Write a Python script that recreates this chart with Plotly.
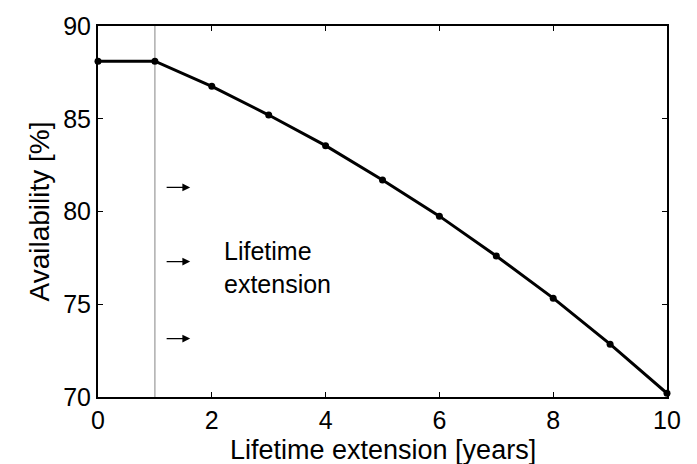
import plotly.graph_objects as go

years = [0, 1, 2, 3, 4, 5, 6, 7, 8, 9, 10]
availability = [88.1, 88.1, 86.75, 85.2, 83.55, 81.7, 79.75, 77.6, 75.33, 72.85, 70.2]
arrow_y = [81.3, 77.3, 73.15]
arrow_x0 = 1.18
arrow_x1 = 1.62

FONT = "Liberation Sans, Arial"

fig = go.Figure()
fig.add_trace(go.Scatter(
    x=years, y=availability, mode="lines+markers",
    line=dict(color="black", width=3),
    marker=dict(color="black", size=7, symbol="circle"),
    showlegend=False, cliponaxis=False,
))
fig.add_shape(type="line", x0=1, x1=1, y0=70, y1=90, xref="x", yref="y",
              line=dict(color="#999999", width=1.2), layer="below")
for yv in arrow_y:
    fig.add_annotation(x=arrow_x1, y=yv, ax=arrow_x0, ay=yv, xref="x", yref="y",
                       axref="x", ayref="y", showarrow=True, arrowhead=2,
                       arrowsize=1.3, arrowwidth=1.2, arrowcolor="black", text="")
fig.add_annotation(x=2.18, y=77.0, xref="x", yref="y", text="Lifetime<br>extension",
                   showarrow=False, xanchor="left", yanchor="middle", align="left",
                   font=dict(family=FONT, size=25, color="black"))
# axis titles
fig.add_annotation(x=0.5, y=-0.142, xref="paper", yref="paper",
                   text="Lifetime extension [years]", showarrow=False,
                   xanchor="center", yanchor="middle",
                   font=dict(family=FONT, size=27, color="black"))
fig.add_annotation(x=-0.102, y=0.5, xref="paper", yref="paper",
                   text="Availability [%]", showarrow=False, textangle=-90,
                   xanchor="center", yanchor="middle",
                   font=dict(family=FONT, size=28, color="black"))

axis_common = dict(showgrid=False, zeroline=False, showline=True, linecolor="black",
                   linewidth=2, mirror="ticks", ticks="inside", ticklen=5,
                   tickcolor="black", tickwidth=1,
                   tickfont=dict(family=FONT, size=25, color="black"))
fig.update_xaxes(range=[0, 10], tickvals=[0, 2, 4, 6, 8, 10], ticklabelstandoff=0,
                 **axis_common)
fig.update_yaxes(range=[70, 90], tickvals=[70, 75, 80, 85, 90], **axis_common)
fig.update_layout(width=697, height=464, margin=dict(l=98, r=30, t=22, b=67),
                  plot_bgcolor="white", paper_bgcolor="white")
fig.write_html("out.html")
